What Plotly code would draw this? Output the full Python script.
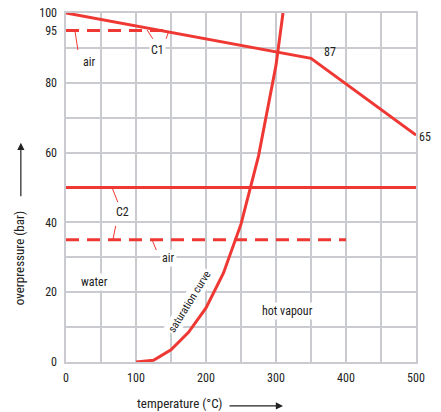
import plotly.graph_objects as go

# ---------------------------------------------------------------------------
# Data
# ---------------------------------------------------------------------------
c1_temp = [0, 350, 500]
c1_press = [100, 87, 65]

air_top_temp = [0, 145]
air_top_press = [95, 95]

c2_temp = [0, 500]
c2_press = [50, 50]

air_low_temp = [0, 400]
air_low_press = [35, 35]

sat_temp = [100, 125, 150, 175, 200, 225, 250, 275, 300, 310]
sat_press = [0, 0.5, 3.5, 8.5, 15.5, 25.5, 39.5, 59, 85, 100]

x_ticks = [0, 100, 200, 300, 400, 500]
y_ticks = [0, 20, 40, 60, 80, 95, 100]

RED = "#ef3833"
GRID = "#c9cbd1"
TEXT = "#222222"
FONT = ("Roboto Condensed, Noto Sans Condensed, Open Sans Condensed, "
        "Liberation Sans Narrow, DejaVu Sans Condensed, Roboto, sans-serif")

fig = go.Figure()

fig.add_trace(go.Scatter(x=c1_temp, y=c1_press, mode="lines",
                         line=dict(color=RED, width=3), cliponaxis=False))
fig.add_trace(go.Scatter(x=air_top_temp, y=air_top_press, mode="lines",
                         line=dict(color=RED, width=3, dash="13px,8px")))
fig.add_trace(go.Scatter(x=c2_temp, y=c2_press, mode="lines",
                         line=dict(color=RED, width=3)))
fig.add_trace(go.Scatter(x=air_low_temp, y=air_low_press, mode="lines",
                         line=dict(color=RED, width=3, dash="13px,8px")))
fig.add_trace(go.Scatter(x=sat_temp, y=sat_press, mode="lines",
                         line=dict(color=RED, width=3), cliponaxis=False))

# labels with white background boxes
labels = [
    ("C1", 130, 89.3),
    ("air", 33, 86),
    ("C2", 81, 43),
    ("air", 147, 29.8),
    ("water", 41, 22.9),
    ("hot vapour", 317, 14.6),
]
for txt, x, y in labels:
    fig.add_annotation(x=x, y=y, text=txt, showarrow=False,
                       bgcolor="white", borderpad=1,
                       font=dict(size=12, color=TEXT, family=FONT))

# value labels at the C1 break points
fig.add_annotation(x=c1_temp[1], y=c1_press[1], text=str(c1_press[1]),
                   showarrow=False, xanchor="left", yanchor="bottom",
                   xshift=11, yshift=-3,
                   font=dict(size=12, color=TEXT, family=FONT))
fig.add_annotation(x=c1_temp[2], y=c1_press[2], text=str(c1_press[2]),
                   showarrow=False, xanchor="left", yanchor="middle",
                   xshift=1, yshift=-2,
                   font=dict(size=12, color=TEXT, family=FONT))

fig.add_annotation(x=177, y=17.2, text="saturation curve", showarrow=False,
                   textangle=-58, bgcolor="white", borderpad=1,
                   font=dict(size=11, color=TEXT, family=FONT))

# leader lines
leaders = [
    ((116, 95.1), (124, 92.6)),
    ((146, 94.3), (143, 92.6)),
    ((13, 94.6), (17, 89.4)),
    ((66, 49.9), (74, 45.8)),
    ((71, 39), (67, 35)),
    ((123, 35), (129, 32.1)),
]
for (x0, y0), (x1, y1) in leaders:
    fig.add_shape(type="line", x0=x0, y0=y0, x1=x1, y1=y1,
                  line=dict(color=RED, width=1))

# axis titles with arrows
fig.add_annotation(xref="paper", yref="paper", x=0.326, y=-0.118,
                   xanchor="center", yanchor="middle",
                   text="temperature (°C)", showarrow=False,
                   font=dict(size=13, color=TEXT, family=FONT))
fig.add_annotation(xref="paper", yref="paper", x=0.62, y=-0.126,
                   ax=-55, ay=0, text="", showarrow=True, arrowhead=2,
                   arrowsize=1.2, arrowwidth=1.2, arrowcolor=TEXT)
fig.add_annotation(xref="paper", yref="paper", x=-0.131, y=0.298,
                   xanchor="center", yanchor="middle",
                   text="overpressure (bar)", textangle=-90, showarrow=False,
                   font=dict(size=13, color=TEXT, family=FONT))
fig.add_annotation(xref="paper", yref="paper", x=-0.129, y=0.628,
                   ax=0, ay=55, text="", showarrow=True, arrowhead=2,
                   arrowsize=1.2, arrowwidth=1.2, arrowcolor=TEXT)

xgrid = list(range(0, 501, 50))

fig.update_layout(
    width=441, height=412,
    margin=dict(l=66, r=25, t=13, b=50, autoexpand=False),
    paper_bgcolor="white", plot_bgcolor="white",
    showlegend=False,
    font=dict(family=FONT, size=12, color=TEXT),
    xaxis=dict(range=[0, 500], tickmode="array", tickvals=xgrid,
               ticktext=[str(v) if v in x_ticks else "" for v in xgrid],
               showgrid=True, gridcolor=GRID, gridwidth=1.5,
               zeroline=False, showline=True, linecolor=GRID, linewidth=1.5,
               mirror=True, ticks="", ticklabelstandoff=4,
               automargin=False, tickfont=dict(size=12, color=TEXT)),
    yaxis=dict(range=[0, 100], tickmode="linear", tick0=0, dtick=10,
               showgrid=True, gridcolor=GRID, gridwidth=1.5,
               zeroline=False, showline=True, linecolor=GRID, linewidth=1.5,
               mirror=True, showticklabels=False, ticks="", automargin=False),
    yaxis2=dict(range=[0, 100], overlaying="y", side="left",
                tickmode="array", tickvals=y_ticks,
                ticktext=[str(v) for v in y_ticks],
                showgrid=False, zeroline=False, showline=False, ticks="",
                ticklabelstandoff=8, automargin=False,
                tickfont=dict(size=12, color=TEXT)),
)
# invisible trace so yaxis2 gets drawn
fig.add_trace(go.Scatter(x=[0], y=[0], yaxis="y2", mode="markers",
                         marker=dict(opacity=0), hoverinfo="skip"))

fig.write_html("out.html", config={"displayModeBar": False},
               post_script="document.body.style.margin='0';")
